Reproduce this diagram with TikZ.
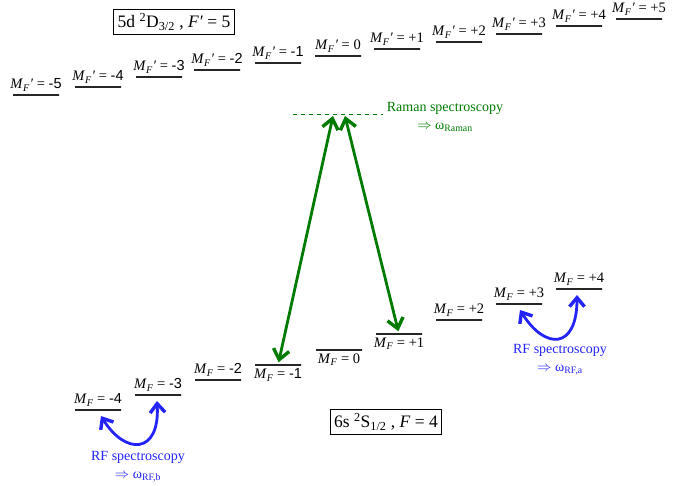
\documentclass[tikz,border=0pt]{standalone}
\usepackage{fontspec}
\setmainfont{Liberation Serif}
\newfontfamily\negfont{Liberation Sans}
\usepackage{xcolor}
\usepackage{tikz}
\usetikzlibrary{arrows.meta,positioning}

\definecolor{ramangreen}{RGB}{0,122,0}
\definecolor{rfblue}{RGB}{35,35,250}

\newcommand{\mfup}[1]{\textit{M}\textsubscript{\textit{F}}\textit{′} = #1}
\newcommand{\mflo}[1]{\textit{M}\textsubscript{\textit{F}} = #1}
\newcommand{\negnum}[1]{{\negfont -#1}}

\begin{document}
\begin{tikzpicture}[x=1pt, y=-1pt,
    level/.style={draw=black!85, line width=1.6pt, minimum width=46pt,
                  minimum height=0pt, inner sep=0pt},
    lab/.style={font=\fontsize{14.5}{17}\selectfont, inner sep=3pt},
    term/.style={draw, line width=0.8pt, inner sep=4pt,
                 font=\fontsize{17.5}{20}\selectfont},
    raman/.style={{Straight Barb[length=10pt,width=16pt,line width=3.4pt]}-{Straight Barb[length=10pt,width=16pt,line width=3.4pt]},
                  line width=2.8pt, ramangreen},
    rf/.style={{Straight Barb[length=9pt,width=15pt,line width=3.4pt]}-{Straight Barb[length=9pt,width=15pt,line width=3.4pt]},
               line width=2.8pt, rfblue},
    note/.style={align=center, font=\fontsize{14}{18}\selectfont}
]
\useasboundingbox (0,0) rectangle (690,485);

% excited state 5d D3/2, F'=5
\node[term] (upterm) at (174,22) {5d \textsuperscript{2}D\textsubscript{3/2} , \textit{F}\textit{′} = 5};
\node[level, label={[lab]above:\mfup{\negnum{5}}}] (um5) at (36,95) {};
\node[level, label={[lab]above:\mfup{\negnum{4}}}] (um4) at (98,87) {};
\node[level, label={[lab]above:\mfup{\negnum{3}}}] (um3) at (159,77) {};
\node[level, label={[lab]above:\mfup{\negnum{2}}}] (um2) at (217,70) {};
\node[level, label={[lab]above:\mfup{\negnum{1}}}] (um1) at (278,63) {};
\node[level, label={[lab]above:\mfup{0}}] (u0) at (338,56) {};
\node[level, label={[lab]above:\mfup{+1}}] (up1) at (397,49) {};
\node[level, label={[lab]above:\mfup{+2}}] (up2) at (459,42) {};
\node[level, label={[lab]above:\mfup{+3}}] (up3) at (519,34) {};
\node[level, label={[lab]above:\mfup{+4}}] (up4) at (579,26) {};
\node[level, label={[lab]above:\mfup{+5}}] (up5) at (639,19) {};

% ground state 6s S1/2, F=4
\node[term] (loterm) at (386,422) {6s \textsuperscript{2}S\textsubscript{1/2} , \textit{F} = 4};
\node[level, label={[lab]above:\mflo{\negnum{4}}}] (lm4) at (98,410) {};
\node[level, label={[lab]above:\mflo{\negnum{3}}}] (lm3) at (158,395) {};
\node[level, label={[lab]above:\mflo{\negnum{2}}}] (lm2) at (218,380) {};
\node[level, label={[lab]below:\mflo{\negnum{1}}}] (lm1) at (278,365) {};
\node[level, label={[lab]below:\mflo{0}}] (l0) at (339,350) {};
\node[level, label={[lab]below:\mflo{+1}}] (lp1) at (399,334) {};
\node[level, label={[lab]above:\mflo{+2}}] (lp2) at (459,320) {};
\node[level, label={[lab]above:\mflo{+3}}] (lp3) at (519,304) {};
\node[level, label={[lab]above:\mflo{+4}}] (lp4) at (579,289) {};

% virtual level and Raman transitions
\coordinate (vl) at (293,114);
\coordinate (vr) at (383,114);
\coordinate (va) at (333,116);
\coordinate (vb) at (345,116);
\draw[ramangreen, line width=0.8pt, dash pattern=on 4pt off 4pt] (vl) -- (vr);
\node[note, text=ramangreen] (ramannote) at (445,117)
  {Raman spectroscopy\\$\Rightarrow$ ω\textsubscript{Raman}};
\draw[raman, shorten <=2pt] (lm1) -- (va);
\draw[raman, shorten >=2pt] (vb) -- (lp1);

% RF transitions
\draw[rf] ([shift={(3,6)}]lm4.center) .. controls (125,455) and (160,455) .. ([shift={(-1,6)}]lm3.center);
\node[note, text=rfblue] (rfbnote) at (138,467)
  {RF spectroscopy\\$\Rightarrow$ ω\textsubscript{RF,b}};
\draw[rf] ([shift={(1,6)}]lp3.center) .. controls (545,350) and (577,350) .. ([shift={(-2,6)}]lp4.center);
\node[note, text=rfblue] (rfanote) at (560,360)
  {RF spectroscopy\\$\Rightarrow$ ω\textsubscript{RF,a}};
\end{tikzpicture}
\end{document}
